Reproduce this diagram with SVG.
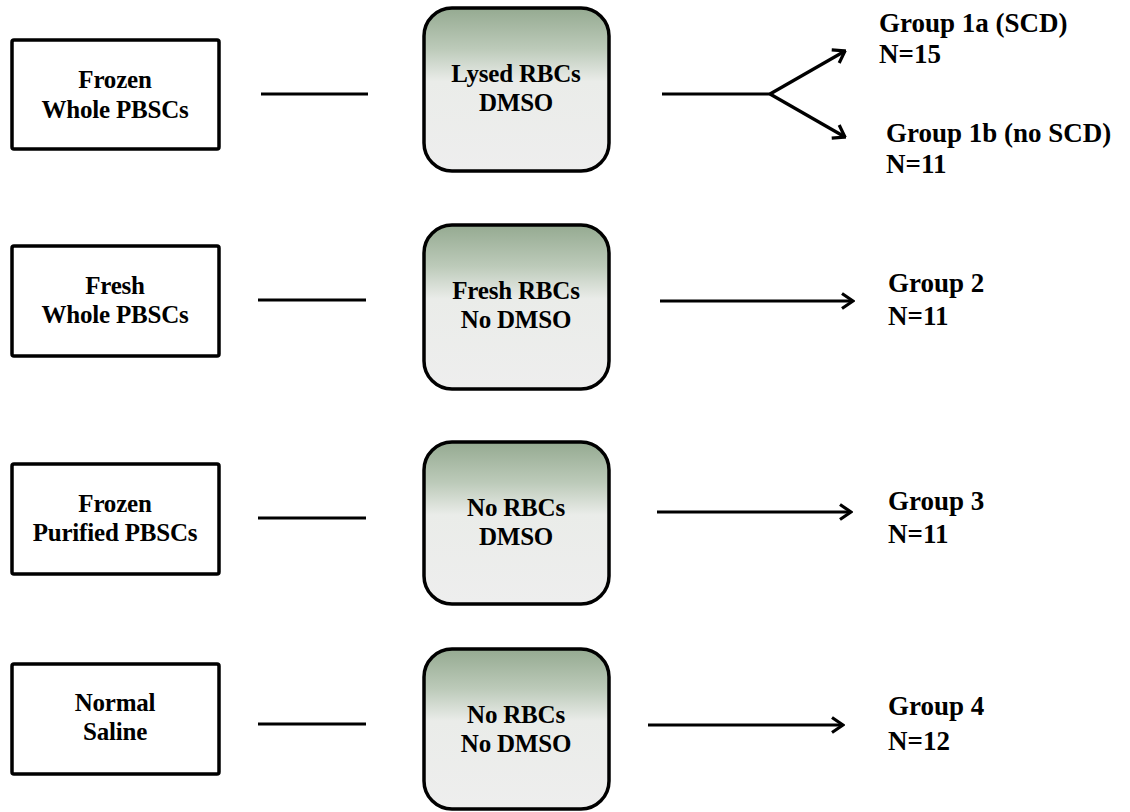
<svg xmlns="http://www.w3.org/2000/svg" width="1130" height="812" viewBox="0 0 1130 812">
<defs>
<linearGradient id="g" x1="0" y1="0" x2="0" y2="1">
<stop offset="0" stop-color="#95aa91"/>
<stop offset="0.25" stop-color="#bccab9"/>
<stop offset="0.45" stop-color="#eaece9"/>
<stop offset="1" stop-color="#eeeeee"/>
</linearGradient>
<marker id="ah" viewBox="0 0 14 18" refX="12.5" refY="9" markerWidth="14" markerHeight="18" markerUnits="userSpaceOnUse" orient="auto">
<path d="M1.5,1.5 L12.5,9 L1.5,16.5" fill="none" stroke="#000" stroke-width="3.2"/>
</marker>
<style>
.src{fill:#fff;stroke:#000;stroke-width:3.5}
.mid{fill:url(#g);stroke:#000;stroke-width:3.5}
text{font-family:"Liberation Serif","Times New Roman",serif;font-weight:bold;fill:#000}
.c{text-anchor:middle;font-size:25px;letter-spacing:-0.2px}
.grp{font-size:27px}
.ln{stroke:#000;stroke-width:3;fill:none}
.ar{stroke:#000;stroke-width:3.2;fill:none;marker-end:url(#ah)}
</style>
</defs>
<rect width="1130" height="812" fill="#fff"/>

<g id="src1"><rect class="src" x="12" y="40" width="207" height="109" rx="2"/>
<text class="c" x="115" y="88">Frozen</text><text class="c" x="115" y="118">Whole PBSCs</text></g>
<g id="src2"><rect class="src" x="12" y="246" width="207" height="110" rx="2"/>
<text class="c" x="115" y="294">Fresh</text><text class="c" x="115" y="323">Whole PBSCs</text></g>
<g id="src3"><rect class="src" x="12" y="464" width="207" height="110" rx="2"/>
<text class="c" x="115" y="512">Frozen</text><text class="c" x="115" y="541">Purified PBSCs</text></g>
<g id="src4"><rect class="src" x="12" y="664" width="207" height="110" rx="2"/>
<text class="c" x="115" y="711">Normal</text><text class="c" x="115" y="740">Saline</text></g>

<g id="mid1"><rect class="mid" x="424" y="8" width="185" height="163" rx="28"/>
<text class="c" x="516" y="82">Lysed RBCs</text><text class="c" x="516" y="111">DMSO</text></g>
<g id="mid2"><rect class="mid" x="424" y="225" width="185" height="164" rx="28"/>
<text class="c" x="516" y="299">Fresh RBCs</text><text class="c" x="516" y="328">No DMSO</text></g>
<g id="mid3"><rect class="mid" x="424" y="442" width="185" height="162" rx="28"/>
<text class="c" x="516" y="516">No RBCs</text><text class="c" x="516" y="545">DMSO</text></g>
<g id="mid4"><rect class="mid" x="424" y="649" width="185" height="160" rx="28"/>
<text class="c" x="516" y="723">No RBCs</text><text class="c" x="516" y="752">No DMSO</text></g>

<g id="grp1a"><text class="grp" x="879" y="32">Group 1a (SCD)</text><text class="grp" x="879" y="63">N=15</text></g>
<g id="grp1b"><text class="grp" x="886" y="142">Group 1b (no SCD)</text><text class="grp" x="886" y="173">N=11</text></g>
<g id="grp2"><text class="grp" x="888" y="292">Group 2</text><text class="grp" x="888" y="325">N=11</text></g>
<g id="grp3"><text class="grp" x="888" y="510">Group 3</text><text class="grp" x="888" y="543">N=11</text></g>
<g id="grp4"><text class="grp" x="888" y="715">Group 4</text><text class="grp" x="888" y="750">N=12</text></g>

<g id="connectors">
<line class="ln" x1="261" y1="94" x2="368" y2="94"/>
<line class="ln" x1="258" y1="300" x2="366" y2="300"/>
<line class="ln" x1="258" y1="518" x2="366" y2="518"/>
<line class="ln" x1="258" y1="724" x2="366" y2="724"/>
<line class="ln" x1="662" y1="94" x2="770" y2="94"/>
<line class="ar" x1="770" y1="94" x2="845" y2="51"/>
<line class="ar" x1="770" y1="94" x2="845" y2="137"/>
<line class="ar" x1="660" y1="301" x2="853" y2="301"/>
<line class="ar" x1="657" y1="512" x2="851" y2="512"/>
<line class="ar" x1="648" y1="725" x2="843" y2="725"/>
</g>
</svg>
